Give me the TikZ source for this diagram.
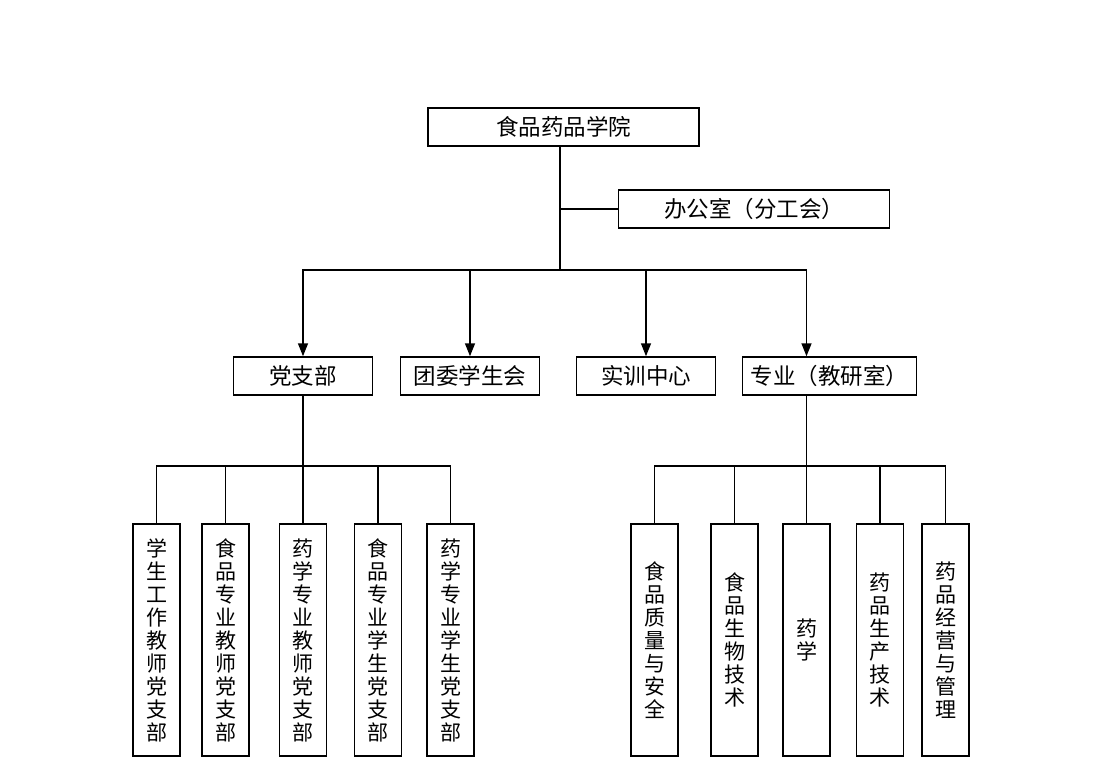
\documentclass[tikz,border=0pt]{standalone}
\usepackage{fontspec}
\setmainfont{Noto Sans CJK SC}
\usetikzlibrary{arrows.meta}
\begin{document}
\begin{tikzpicture}[x=1pt,y=-1pt,line width=1.5pt,
  box/.style={draw,inner sep=0pt,font=\fontsize{21}{23}\selectfont},
  hbox/.style={box,minimum width=139pt,minimum height=38pt,font=\fontsize{22.5}{24}\selectfont},
  vbox/.style={box,minimum width=47pt,minimum height=232pt,align=center},
  arr/.style={-{Triangle[length=13pt,width=10pt]}}]
\useasboundingbox (0,0) rectangle (1114,784);
\node[hbox,minimum width=271pt] (top) at (563.5,127) {食品药品学院};
\node[hbox,minimum width=271pt] (office) at (754,209) {办公室（分工会）};
\node[hbox] (dzb) at (303,376) {党支部};
\node[hbox] (tw) at (470,376) {团委学生会};
\node[hbox] (sx) at (646,376) {实训中心};
\node[hbox,minimum width=174pt] (zy) at (829.5,376) {专业（教研室）};
\node[vbox] (l1) at (156.5,640) {学\\生\\工\\作\\教\\师\\党\\支\\部};
\node[vbox] (l2) at (225.5,640) {食\\品\\专\\业\\教\\师\\党\\支\\部};
\node[vbox] (l3) at (303,640) {药\\学\\专\\业\\教\\师\\党\\支\\部};
\node[vbox] (l4) at (378,640) {食\\品\\专\\业\\学\\生\\党\\支\\部};
\node[vbox] (l5) at (450.5,640) {药\\学\\专\\业\\学\\生\\党\\支\\部};
\node[vbox] (r1) at (654.5,640) {食\\品\\质\\量\\与\\安\\全};
\node[vbox] (r2) at (734.5,640) {食\\品\\生\\物\\技\\术};
\node[vbox] (r3) at (806.5,640) {药\\学};
\node[vbox] (r4) at (880,640) {药\\品\\生\\产\\技\\术};
\node[vbox] (r5) at (945.5,640) {药\\品\\经\\营\\与\\管\\理};
\coordinate (trunk) at (560,270);
\coordinate (j4) at (806.5,270);
\coordinate (lbus) at (303,466);
\coordinate (rbus) at (806.5,466);
\draw (top.south -| trunk) -- (trunk);
\draw (office.west) -- (office.west -| trunk);
\draw[arr] (trunk) -| (dzb.north);
\draw[arr] (trunk) -| (j4 |- zy.north);
\foreach \n in {tw,sx}
\draw[arr] (\n.north |- trunk) -- (\n.north);
\draw (dzb.south) -- (lbus);
\draw (l1.north) |- (lbus) -| (l5.north);
\foreach \n in {l2,l3,l4}
\draw (\n.north) -- (\n.north |- lbus);
\draw (zy.south -| rbus) -- (rbus);
\draw (r1.north) |- (rbus) -| (r5.north);
\foreach \n in {r2,r3,r4}
\draw (\n.north) -- (\n.north |- rbus);
\end{tikzpicture}
\end{document}
